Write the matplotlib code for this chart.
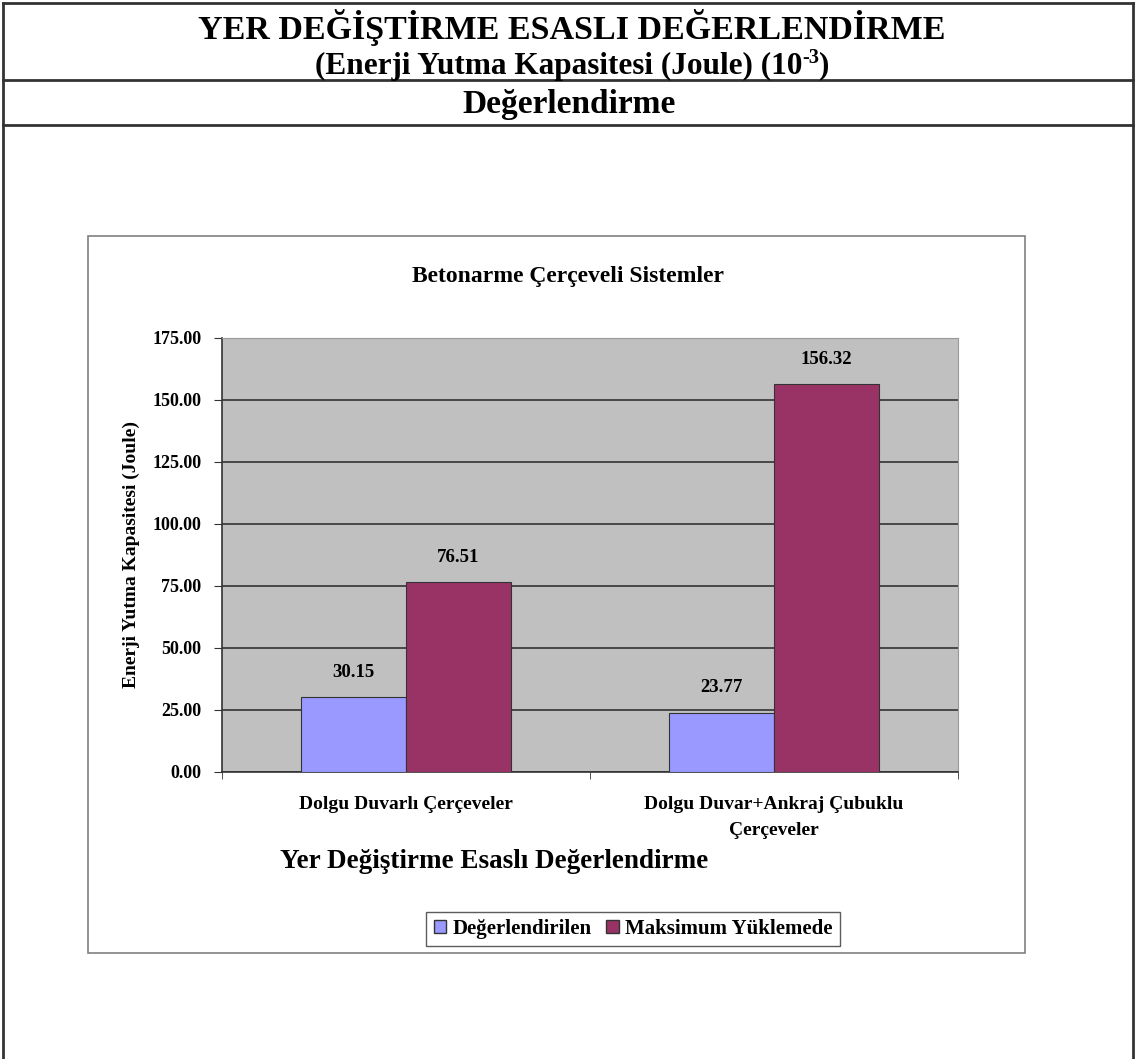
import matplotlib
matplotlib.use("Agg")
import matplotlib.pyplot as plt
from matplotlib.patches import Rectangle, Patch
from matplotlib.lines import Line2D
import numpy as np

categories = ["Dolgu Duvarlı Çerçeveler", "Dolgu Duvar+Ankraj Çubuklu\nÇerçeveler"]
series_names = ["Değerlendirilen", "Maksimum Yüklemede"]
degerlendirilen = [30.15, 23.77]
maksimum = [76.51, 156.32]
yticks = [0, 25, 50, 75, 100, 125, 150, 175]

plt.rcParams['font.family'] = ['Liberation Serif', 'DejaVu Serif']

W, H = 1137, 1059
fig = plt.figure(figsize=(W / 100, H / 100), dpi=100)

def fx(x):
    return x / W

def fy(y):
    return 1 - y / H

# Outer table lines
lc = '#333333'
for (x0, y0, x1, y1) in [(3, 3, 1133, 3), (3, 80, 1133, 80), (3, 125, 1133, 125),
                         (3, 3, 3, 1059), (1133, 3, 1133, 1059)]:
    fig.add_artist(Line2D([fx(x0), fx(x1)], [fy(y0), fy(y1)], color=lc, lw=2))

fig.text(fx(572), fy(28), "YER DEĞİŞTİRME ESASLI DEĞERLENDİRME", ha='center', va='center',
         fontsize=24.5, fontweight='bold')

# Line 2 with superscript (-3)
renderer = fig.canvas.get_renderer()
part1 = "(Enerji Yutma Kapasitesi (Joule) (10"
sup = "-3"
part3 = ")"
fs2 = 22.5
t1 = fig.text(0, fy(66), part1, ha='left', va='center', fontsize=fs2, fontweight='bold')
t2 = fig.text(0, fy(58), sup, ha='left', va='center', fontsize=fs2 * 0.65, fontweight='bold')
t3 = fig.text(0, fy(66), part3, ha='left', va='center', fontsize=fs2, fontweight='bold')
w1 = t1.get_window_extent(renderer).width
w2 = t2.get_window_extent(renderer).width
w3 = t3.get_window_extent(renderer).width
total = w1 + w2 + w3
x0 = 572 - total / 2
t1.set_x(fx(x0))
t2.set_x(fx(x0 + w1))
t3.set_x(fx(x0 + w1 + w2))

fig.text(fx(569), fy(104), "Değerlendirme", ha='center', va='center',
         fontsize=24, fontweight='bold')

# Chart frame
fig.add_artist(Rectangle((fx(88), fy(953)), fx(1025) - fx(88), fy(236) - fy(953),
                         transform=fig.transFigure, fill=False, edgecolor='#808080', lw=1.2))
fig.text(fx(568), fy(277), "Betonarme Çerçeveli Sistemler", ha='center', va='center',
         fontsize=17, fontweight='bold')

ax = fig.add_axes([fx(222), fy(772), fx(958) - fx(222), fy(338) - fy(772)])
ax.set_facecolor('#C0C0C0')
x = np.arange(len(categories))
w = 0.285
b1 = ax.bar(x - w / 2, degerlendirilen, w, color='#9999FF', edgecolor='#333333', lw=0.8,
            label=series_names[0], zorder=3)
b2 = ax.bar(x + w / 2, maksimum, w, color='#993366', edgecolor='#333333', lw=0.8,
            label=series_names[1], zorder=3)
for bars, vals in [(b1, degerlendirilen), (b2, maksimum)]:
    for r, v in zip(bars, vals):
        ax.annotate(f"{v:.2f}", (r.get_x() + r.get_width() / 2, v), xytext=(0, 12),
                    textcoords='offset points', ha='center', va='bottom',
                    fontsize=13.5, fontweight='bold')

ax.set_xlim(-0.5, 1.5)
ax.set_ylim(0, 175)
ax.set_yticks(yticks)
ax.set_yticklabels([f"{v:.2f}" for v in yticks], fontsize=13, fontweight='bold')
ax.yaxis.grid(True, color='#333333', lw=1.2, zorder=0)
ax.set_axisbelow(True)
ax.set_xticks(x)
ax.set_xticklabels(categories, fontsize=14, fontweight='bold', linespacing=1.75)
ax.tick_params(axis='x', length=0, pad=17)
ax.set_xticks([-0.5, 0.5, 1.5], minor=True)
ax.tick_params(axis='x', which='minor', length=5, color='#333333')
ax.tick_params(axis='y', length=6, color='#333333', pad=9)
for s in ['top', 'right']:
    ax.spines[s].set_color('#999999')
for s in ['left', 'bottom']:
    ax.spines[s].set_color('#333333')
    ax.spines[s].set_linewidth(1.2)
ax.set_ylabel("Enerji Yutma Kapasitesi (Joule)", fontsize=14, fontweight='bold', labelpad=9)

fig.text(fx(280), fy(862), "Yer Değiştirme Esaslı Değerlendirme", ha='left', va='center',
         fontsize=19.5, fontweight='bold')

handles = [Patch(facecolor='#9999FF', edgecolor='#333333', label=series_names[0]),
           Patch(facecolor='#993366', edgecolor='#333333', label=series_names[1])]
leg = fig.legend(handles=handles, loc='center', bbox_to_anchor=(fx(633), fy(929)), ncol=2,
                 frameon=True, fancybox=False, edgecolor='#333333',
                 prop={'weight': 'bold', 'size': 15}, handlelength=0.6, handleheight=0.6,
                 handletextpad=0.3, columnspacing=0.7, borderpad=0.35)
leg.get_frame().set_linewidth(1.0)

fig.savefig("out.png", dpi=100)
